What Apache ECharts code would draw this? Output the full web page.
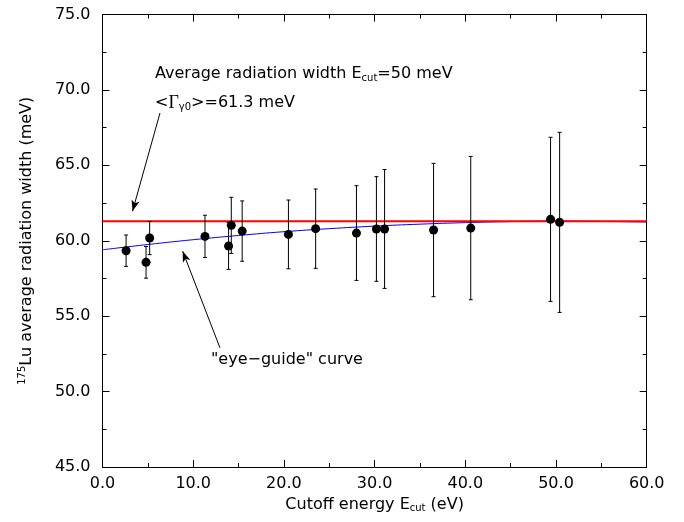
<!DOCTYPE html>
<html>
<head>
<meta charset="utf-8">
<script src="https://cdn.jsdelivr.net/npm/echarts/dist/echarts.min.js"></script>
<style>
  html, body { margin: 0; padding: 0; background: #fff; }
  #main { width: 684px; height: 522px; }
</style>
</head>
<body>
<div id="main"></div>
<script>
// measured points: cutoff energy (eV), average radiation width (meV), error (meV)
var energy = [2.6, 4.8, 5.2, 11.3, 13.9, 14.2, 15.4, 20.5, 23.5, 28.0, 30.2, 31.1, 36.5, 40.6, 49.4, 50.4];
var radWidth = [59.34, 58.57, 60.18, 60.29, 59.65, 61.02, 60.64, 60.42, 60.80, 60.51, 60.78, 60.78, 60.71, 60.84, 61.42, 61.22];
var radErr = [1.04, 1.05, 1.10, 1.40, 1.55, 1.86, 2.00, 2.28, 2.63, 3.14, 3.47, 3.94, 4.42, 4.75, 5.44, 5.97];

// "eye-guide" curve
var guideE = [0, 5, 10, 15, 20, 25, 30, 35, 40, 45, 50, 55, 60];
var guideW = [59.40, 59.75, 60.07, 60.35, 60.60, 60.80, 60.97, 61.10, 61.20, 61.27, 61.30, 61.28, 61.24];

var avgWidth = 61.3;
var avgLineE = [0, 60];

var xTicks = [0, 10, 20, 30, 40, 50, 60];
var yTicks = [45, 50, 55, 60, 65, 70, 75];

var FONT = 'DejaVu Sans';
var chart = echarts.init(document.getElementById('main'));

function axisBase(pos, ticks, show) {
  return {
    type: 'value',
    position: pos,
    min: ticks[0],
    max: ticks[ticks.length - 1],
    interval: ticks[1] - ticks[0],
    axisLine: { show: true, onZero: false, lineStyle: { color: '#000', width: 1 } },
    axisTick: { show: true, inside: true, length: 7, lineStyle: { color: '#000', width: 1 } },
    minorTick: { show: true, splitNumber: 2, length: 4, lineStyle: { color: '#000', width: 1 } },
    splitLine: { show: false },
    axisLabel: {
      show: show, color: '#000', fontFamily: FONT, fontSize: 16,
      formatter: function (v) { return v.toFixed(1); }
    }
  };
}

var xBottom = axisBase('bottom', xTicks, true);
xBottom.axisLabel.margin = 9;
xBottom.name = 'Cutoff energy E{sub|cut} (eV)';
xBottom.nameLocation = 'middle';
xBottom.nameGap = 28;
xBottom.nameTextStyle = {
  color: '#000', fontFamily: FONT, fontSize: 16,
  rich: { sub: { fontFamily: FONT, fontSize: 10, verticalAlign: 'bottom', padding: [8, 0, 0, 0] } }
};

var yLeft = axisBase('left', yTicks, true);
yLeft.axisLabel.margin = 12;
yLeft.name = '{sup|175}Lu average radiation width (meV)';
yLeft.nameLocation = 'middle';
yLeft.nameRotate = 90;
yLeft.nameGap = 67;
yLeft.nameTextStyle = {
  color: '#000', fontFamily: FONT, fontSize: 16,
  rich: { sup: { fontFamily: FONT, fontSize: 10, verticalAlign: 'top', padding: [0, 0, 8, 0] } }
};

var errData = energy.map(function (e, i) {
  return [e, radWidth[i] - radErr[i], radWidth[i] + radErr[i]];
});

var option = {
  animation: false,
  backgroundColor: '#fff',
  grid: { left: 102.5, right: 37.3, top: 14.5, bottom: 55 },
  xAxis: [xBottom, axisBase('top', xTicks, false)],
  yAxis: [yLeft, axisBase('right', yTicks, false)],
  series: [
    {
      type: 'line',
      data: guideE.map(function (e, i) { return [e, guideW[i]]; }),
      smooth: true,
      showSymbol: false,
      lineStyle: { color: '#0000ff', width: 1 },
      z: 2
    },
    {
      type: 'line',
      data: avgLineE.map(function (e) { return [e, avgWidth]; }),
      showSymbol: false,
      lineStyle: { color: '#ff0000', width: 2 },
      z: 3,
      markLine: {
        silent: true,
        symbol: ['none', 'arrow'],
        symbolSize: [6, 11],
        label: { show: false },
        lineStyle: { color: '#000', width: 1, type: 'solid' },
        data: [
          [{ coord: [6.34, 68.47] }, { coord: [3.31, 61.96] }],
          [{ coord: [12.95, 52.9] }, { coord: [8.84, 59.31] }]
        ]
      }
    },
    {
      type: 'custom',
      data: errData,
      encode: { x: 0, y: [1, 2] },
      z: 4,
      renderItem: function (params, api) {
        var x = api.value(0);
        var top = api.coord([x, api.value(2)]);
        var bot = api.coord([x, api.value(1)]);
        var st = { stroke: '#000', lineWidth: 1 };
        var c = 2;
        return {
          type: 'group',
          children: [
            { type: 'line', shape: { x1: top[0], y1: top[1], x2: bot[0], y2: bot[1] }, style: st },
            { type: 'line', shape: { x1: top[0] - c, y1: top[1], x2: top[0] + c, y2: top[1] }, style: st },
            { type: 'line', shape: { x1: bot[0] - c, y1: bot[1], x2: bot[0] + c, y2: bot[1] }, style: st }
          ]
        };
      }
    },
    {
      type: 'scatter',
      data: energy.map(function (e, i) { return [e, radWidth[i]]; }),
      symbol: 'circle',
      symbolSize: 9,
      itemStyle: { color: '#000', opacity: 1 },
      z: 5
    }
  ],
  graphic: [
    {
      type: 'text', left: 155, top: 66,
      style: {
        text: 'Average radiation width E{sub|cut}=50 meV',
        fontFamily: FONT, fontSize: 16, fill: '#000',
        rich: { sub: { fontFamily: FONT, fontSize: 10, verticalAlign: 'bottom', padding: [8, 0, 0, 0] } }
      }
    },
    {
      type: 'text', left: 155, top: 94,
      style: {
        text: '<{g|Γ}{sub|γ0}>=61.3 meV',
        fontFamily: FONT, fontSize: 16, fill: '#000',
        rich: {
          g: { fontFamily: 'Liberation Serif', fontSize: 18 },
          sub: { fontFamily: FONT, fontSize: 10, verticalAlign: 'bottom', padding: [8, 0, 0, 0] }
        }
      }
    },
    {
      type: 'text', left: 211, top: 352,
      style: { text: '"eye\u2212guide" curve', fontFamily: FONT, fontSize: 16, fill: '#000' }
    }
  ]
};

chart.setOption(option);
</script>
</body>
</html>
